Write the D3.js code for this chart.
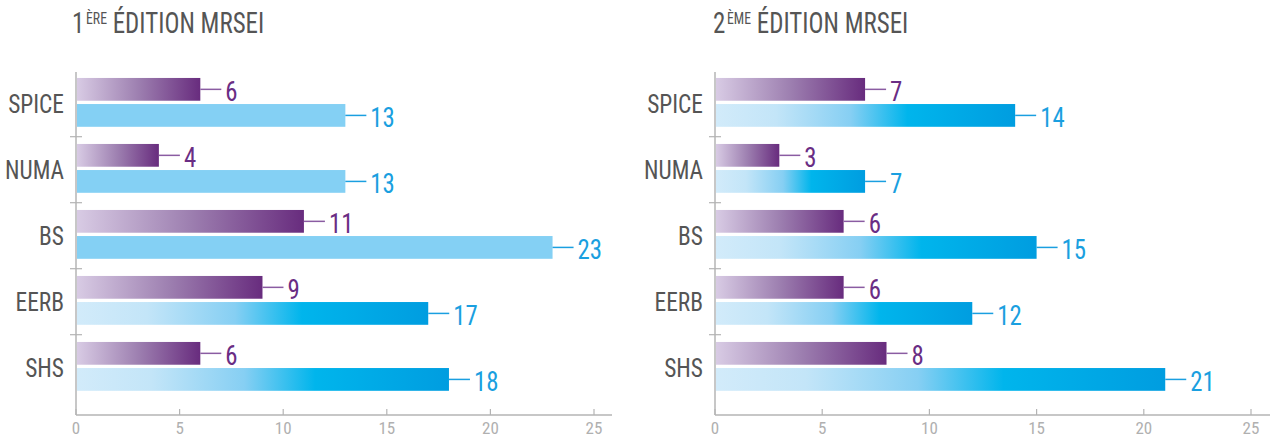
<!DOCTYPE html>
<html>
<head>
<meta charset="utf-8">
<script src="https://cdn.jsdelivr.net/npm/d3@7"></script>
<style>
  body { margin: 0; background: #fff; }
  svg text { font-family: "Liberation Sans Narrow", "Roboto Condensed", "DejaVu Sans Condensed", sans-serif; }
</style>
</head>
<body>
<div id="chart"></div>
<script>
// Données
const categories = ["SPICE", "NUMA", "BS", "EERB", "SHS"];
const edition1Purple = [6, 4, 11, 9, 6];
const edition1Blue = [13, 13, 23, 17, 18];
const edition2Purple = [7, 3, 6, 6, 8];
const edition2Blue = [14, 7, 15, 12, 21];
const xTicks = [0, 5, 10, 15, 20, 25];
// dans la 1ère édition, ces barres bleues sont unies (sans dégradé)
const flatBlue1 = ["SPICE", "NUMA", "BS"];

const W = 1278, H = 437;
const svg = d3.select("#chart").append("svg")
    .attr("width", W)
    .attr("height", H);

// Dégradés
const defs = svg.append("defs");
const gPurple = defs.append("linearGradient").attr("id", "gradPurple");
gPurple.append("stop").attr("offset", "0%").attr("stop-color", "#d8cbe4");
gPurple.append("stop").attr("offset", "50%").attr("stop-color", "#9d7fb0");
gPurple.append("stop").attr("offset", "100%").attr("stop-color", "#682c7e");

const gBlue = defs.append("linearGradient").attr("id", "gradBlue");
gBlue.append("stop").attr("offset", "0%").attr("stop-color", "#d2ebfa");
gBlue.append("stop").attr("offset", "20%").attr("stop-color", "#c3e5f8");
gBlue.append("stop").attr("offset", "45%").attr("stop-color", "#86cff3");
gBlue.append("stop").attr("offset", "64%").attr("stop-color", "#00b5ec");
gBlue.append("stop").attr("offset", "100%").attr("stop-color", "#009de0");

// texte un peu plus étroit (police condensée)
function squeeze(sel, sx, xf, yf) {
    sel.attr("transform", (d, i) => "translate(" + xf(d, i) + "," + yf(d, i) + ") scale(" + sx + ",1)");
}

function drawChart(opts) {
    const x = d3.scaleLinear().domain([0, 25]).range([opts.x0, opts.x1]);
    const y = d3.scaleBand().domain(categories).range([70.7, 400.7]).padding(0);
    const bw = y.bandwidth();
    const axisColor = "#b4b4b4";

    const g = svg.append("g");

    // Titre
    const title = g.append("text")
        .attr("transform", "translate(" + opts.titleX + ",33) scale(0.86,1)")
        .attr("fill", "#555")
        .style("font-size", "29px");
    title.append("tspan").text(opts.titleNum);
    title.append("tspan").attr("dy", -9).attr("dx", 2).style("font-size", "16px").text(opts.titleSup);
    title.append("tspan").attr("dy", 9).text(" ÉDITION MRSEI");

    // Axe x
    const axisY = 415;
    g.append("line")
        .attr("x1", opts.x0).attr("x2", opts.axisEnd)
        .attr("y1", axisY).attr("y2", axisY)
        .attr("stroke", axisColor).attr("stroke-width", 1.5);
    g.selectAll(".xtick")
        .data(xTicks)
        .enter().append("line")
        .attr("x1", d => x(d)).attr("x2", d => x(d))
        .attr("y1", axisY - 6).attr("y2", axisY)
        .attr("stroke", axisColor).attr("stroke-width", 1.2);
    g.selectAll(".xlab")
        .data(xTicks)
        .enter().append("text")
        .attr("x", d => x(d))
        .attr("y", 434)
        .attr("text-anchor", "middle")
        .attr("fill", "#b0b0b0")
        .style("font-size", "17px")
        .text(d => d);

    // Axe y
    g.append("line")
        .attr("x1", opts.x0).attr("x2", opts.x0)
        .attr("y1", 72).attr("y2", axisY)
        .attr("stroke", axisColor).attr("stroke-width", 1.5);
    g.selectAll(".sep")
        .data(categories.slice(1))
        .enter().append("line")
        .attr("x1", opts.x0 - 6).attr("x2", opts.x0 + 6)
        .attr("y1", d => y(d)).attr("y2", d => y(d))
        .attr("stroke", axisColor).attr("stroke-width", 1.2);
    g.selectAll(".cat")
        .data(categories)
        .enter().append("text")
        .attr("dy", "0.36em")
        .attr("text-anchor", "end")
        .attr("fill", "#555")
        .style("font-size", "26px")
        .text(d => d)
        .call(squeeze, 0.9, () => opts.x0 - 12, d => y(d) + bw / 2);

    const barH = bw * 0.345;
    const series = [
        { values: opts.purple, top: bw * 0.11, color: "#6a2d84", line: "#8a5ca2", fill: () => "url(#gradPurple)" },
        { values: opts.blue, top: bw * 0.505, color: "#1a9fe0", line: "#1a9fe0", fill: c => opts.flat.includes(c) ? "#84d0f4" : "url(#gradBlue)" }
    ];

    series.forEach(s => {
        const data = categories.map((c, i) => ({ c: c, v: s.values[i] }));
        g.selectAll(null)
            .data(data)
            .enter().append("rect")
            .attr("x", x(0) + 1)
            .attr("y", d => y(d.c) + s.top)
            .attr("width", d => x(d.v) - x(0) - 1)
            .attr("height", barH)
            .attr("fill", d => s.fill(d.c));
        g.selectAll(null)
            .data(data)
            .enter().append("line")
            .attr("x1", d => x(d.v)).attr("x2", d => x(d.v) + 21)
            .attr("y1", d => y(d.c) + s.top + barH / 2)
            .attr("y2", d => y(d.c) + s.top + barH / 2)
            .attr("stroke", s.line).attr("stroke-width", 1.5);
        g.selectAll(null)
            .data(data)
            .enter().append("text")
            .attr("dy", "0.42em")
            .attr("fill", s.color)
            .style("font-size", "27px")
            .text(d => d.v)
            .call(squeeze, 0.92, d => x(d.v) + 25, d => y(d.c) + s.top + barH / 2);
    });
}

drawChart({ x0: 76, x1: 594, axisEnd: 612, titleX: 72, titleNum: "1", titleSup: "ÈRE",
    purple: edition1Purple, blue: edition1Blue, flat: flatBlue1 });
drawChart({ x0: 715, x1: 1251, axisEnd: 1270, titleX: 713, titleNum: "2", titleSup: "ÈME",
    purple: edition2Purple, blue: edition2Blue, flat: [] });
</script>
</body>
</html>
